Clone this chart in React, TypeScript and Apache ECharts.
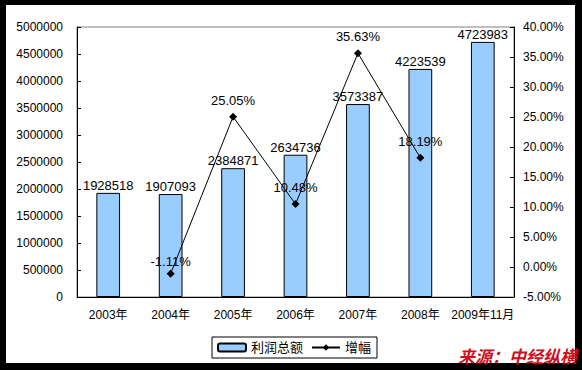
import React, { useEffect, useRef } from "react";
import * as echarts from "echarts";

const categories = ["2003年", "2004年", "2005年", "2006年", "2007年", "2008年", "2009年11月"];
const profitValues = [1928518, 1907093, 2384871, 2634736, 3573387, 4223539, 4723983];
const growthValues: (number | null)[] = [null, -1.11, 25.05, 10.48, 35.63, 18.19, null];
const seriesNames = ["利润总额", "增幅"];
const sourceText = "来源：中经纵横";

const FONT = "'Liberation Sans', Arial, 'Noto Sans CJK SC', sans-serif";

export default function App() {
  const ref = useRef<HTMLDivElement>(null);
  useEffect(() => {
    if (!ref.current) return;
    const chart = echarts.init(ref.current, null, { renderer: "svg" });
    chart.setOption({
      animation: false,
      backgroundColor: "transparent",
      textStyle: { fontFamily: FONT, color: "#000" },
      grid: {
        left: 77,
        right: 68,
        top: 27,
        bottom: 73,
        show: true,
        borderColor: "#808080",
        borderWidth: 1,
        backgroundColor: "transparent",
      },
      legend: {
        left: 212,
        top: 337,
        padding: [4, 6, 4, 5],
        itemGap: 8,
        itemWidth: 28,
        itemHeight: 8,
        borderColor: "#000",
        borderWidth: 1,
        textStyle: { fontSize: 13, color: "#000", fontFamily: FONT },
        data: seriesNames,
      },
      xAxis: {
        type: "category",
        data: categories,
        boundaryGap: true,
        axisLine: { lineStyle: { color: "#000", width: 1 } },
        axisTick: { inside: true, length: 4, lineStyle: { color: "#000" } },
        axisLabel: { color: "#000", fontSize: 12, margin: 12, interval: 0, fontFamily: FONT },
        splitLine: { show: false },
      },
      yAxis: [
        {
          type: "value",
          min: 0,
          max: 5000000,
          interval: 500000,
          axisLine: { show: true, lineStyle: { color: "#000" } },
          axisTick: { show: true, inside: true, length: 4, lineStyle: { color: "#000" } },
          axisLabel: {
            color: "#000",
            fontSize: 12,
            margin: 14,
            fontFamily: FONT,
            formatter: (v: number) => String(v),
          },
          splitLine: { show: false },
        },
        {
          type: "value",
          min: -5,
          max: 40,
          interval: 5,
          position: "right",
          axisLine: { show: true, lineStyle: { color: "#000" } },
          axisTick: { show: true, inside: true, length: 4, lineStyle: { color: "#000" } },
          axisLabel: {
            color: "#000",
            fontSize: 12,
            margin: 9,
            fontFamily: FONT,
            formatter: (v: number) => v.toFixed(2) + "%",
          },
          splitLine: { show: false },
        },
      ],
      series: [
        {
          name: seriesNames[0],
          type: "bar",
          data: profitValues,
          barWidth: "38%",
          itemStyle: { color: "#99CCFF", borderColor: "#000", borderWidth: 1 },
          label: {
            show: true,
            position: "top",
            distance: 1,
            color: "#000",
            fontSize: 13,
            fontFamily: FONT,
          },
          z: 2,
        },
        {
          name: seriesNames[1],
          type: "line",
          yAxisIndex: 1,
          data: growthValues.map((v, i) =>
            v === null
              ? "-"
              : i === 1
              ? { value: v, label: { distance: 2 } }
              : v
          ),
          connectNulls: false,
          symbol: "diamond",
          symbolSize: 8,
          lineStyle: { color: "#000", width: 1 },
          itemStyle: { color: "#000" },
          label: {
            show: true,
            position: "top",
            distance: 6,
            color: "#000",
            fontSize: 13,
            fontFamily: FONT,
            formatter: (p: any) => Number(p.value).toFixed(2) + "%",
          },
          z: 3,
        },
      ],
      graphic: [
        {
          type: "text",
          left: 458,
          top: 347,
          style: {
            text: sourceText,
            fill: "#cc1020",
            font: "italic bold 17px 'Noto Sans CJK SC', sans-serif",
          },
          z: 100,
        },
      ],
    });
    return () => chart.dispose();
  }, []);

  return (
    <div style={{ position: "fixed", left: 0, top: 0, width: 582, height: 370, background: "#000" }}>
      <div style={{ position: "absolute", left: 6, top: 5, width: 569, height: 358, background: "#fff" }} />
      <div ref={ref} style={{ position: "absolute", left: 0, top: 0, width: 582, height: 370 }} />
    </div>
  );
}
